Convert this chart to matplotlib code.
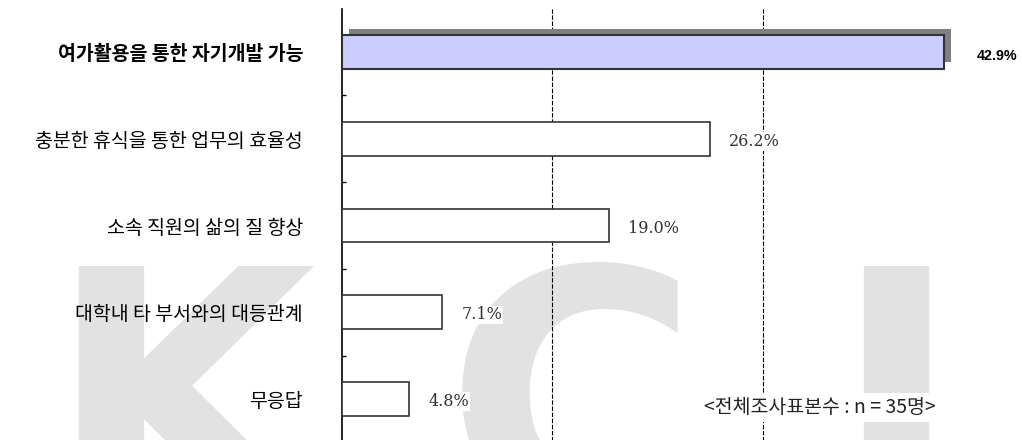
import matplotlib.pyplot as plt
from matplotlib import patheffects as pe

plt.rcParams['font.family'] = ['Noto Sans CJK KR', 'DejaVu Sans']

# 데이터
items = ['여가활용을 통한 자기개발 가능', '충분한 휴식을 통한 업무의 효율성',
         '소속 직원의 삶의 질 향상', '대학내 타 부서와의 대등관계', '무응답']
pct = [42.9, 26.2, 19.0, 7.1, 4.8]
labels = ['42.9%', '26.2%', '19.0%', '7.1%', '4.8%']
note = '<전체조사표본수 : n = 35명>'

fig = plt.figure(figsize=(10.22, 4.4), dpi=100)

# KCI 워터마크 (축 아래에 그림)
wm = dict(fontsize=250, fontweight='bold', color='#e2e2e2', family='DejaVu Sans',
          va='baseline', ha='left', zorder=-5)
fig.text(0.045, -0.18, 'K', **wm)
fig.text(0.435, -0.18, 'C', **wm)
fig.text(0.813, -0.18, 'I', **wm)

ax = fig.add_axes([0.3346, -0.005, 0.618, 0.985])
ax.patch.set_alpha(0)

ypos = list(range(len(items)))
bars = ax.barh(ypos, pct, height=0.39, color='white', edgecolor='#333333',
               linewidth=1.2, zorder=3)
bars[0].set_facecolor('#ccccff')
bars[0].set_linewidth(1.5)
bars[0].set_path_effects([pe.SimplePatchShadow(offset=(4.8, 4.8), shadow_rgbFace='#808080',
                                               alpha=1.0), pe.Normal()])

ax.set_xlim(0, 45)
ax.set_ylim(4.5, -0.5)

for i, (v, s) in enumerate(zip(pct, labels)):
    if i == 0:
        ax.text(v + 2.3, i + 0.05, s, va='center', ha='left', fontsize=10.3,
                fontweight='bold', family='Liberation Sans', color='black', clip_on=False)
    else:
        ax.text(v + 1.4, i + 0.03, s, va='center', ha='left', fontsize=11.5,
                family='DejaVu Serif', color='#333333', zorder=4,
                bbox=dict(facecolor='white', edgecolor='none', pad=0.5))

ax.set_xticks([15, 30])
ax.set_xticklabels([])
ax.tick_params(axis='x', length=0)
ax.grid(axis='x', color='black', linestyle=(0, (4, 1.5)), linewidth=0.8, zorder=1)

ax.set_yticks(ypos)
ax.set_yticklabels(items, fontsize=14)
ax.get_yticklabels()[0].set_fontweight('bold')
ax.tick_params(axis='y', which='major', length=0, pad=28)
ax.set_yticks([0.5, 1.5, 2.5, 3.5], minor=True)
ax.tick_params(axis='y', which='minor', direction='in', length=3, width=1)

for sp in ['top', 'right', 'bottom']:
    ax.spines[sp].set_visible(False)
ax.spines['left'].set_linewidth(1.2)

ax.text(0.94, 0.081, note, transform=ax.transAxes, ha='right', va='center',
        fontsize=14, color='#222222', zorder=5,
        bbox=dict(facecolor='white', edgecolor='none', pad=3))

fig.savefig('out.png', dpi=100)
